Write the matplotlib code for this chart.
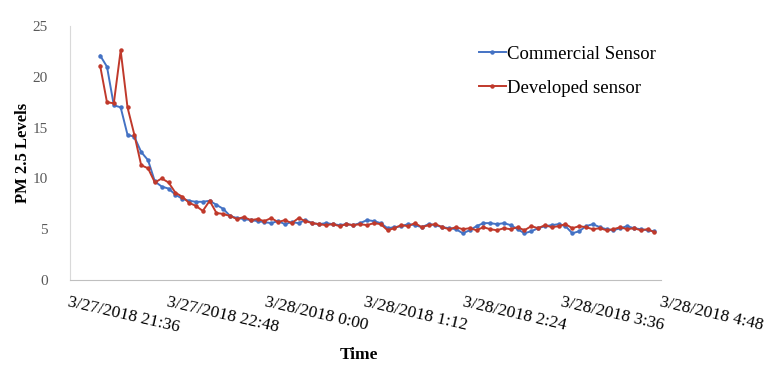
import numpy as np
import pandas as pd
import matplotlib
matplotlib.use('Agg')
import matplotlib.pyplot as plt
import matplotlib.dates as mdates

# ~~~~~~~~ data ~~~~~~~~ #
start_time = '2018-03-27 21:58'
step_min = 5

commercial = [22.1, 21.0, 17.2, 17.0, 14.3, 14.1, 12.6, 11.8, 9.7, 9.2,
              9.0, 8.4, 8.0, 7.8, 7.7, 7.7, 7.8, 7.4, 7.0, 6.3,
              6.1, 6.0, 5.9, 5.8, 5.7, 5.6, 5.8, 5.5, 5.7, 5.6,
              5.9, 5.6, 5.5, 5.6, 5.5, 5.4, 5.5, 5.4, 5.6, 5.9,
              5.8, 5.6, 5.1, 5.2, 5.3, 5.5, 5.4, 5.2, 5.5, 5.4,
              5.2, 5.1, 5.0, 4.6, 4.9, 5.3, 5.6, 5.6, 5.5, 5.6,
              5.4, 5.0, 4.6, 4.8, 5.1, 5.3, 5.4, 5.5, 5.3, 4.6,
              4.8, 5.3, 5.5, 5.2, 5.0, 4.9, 5.1, 5.3, 5.1, 5.0,
              4.9, 4.8]

developed = [21.1, 17.5, 17.4, 22.6, 17.0, 14.3, 11.3, 11.0, 9.6, 10.0,
             9.6, 8.6, 8.2, 7.6, 7.3, 6.8, 7.8, 6.6, 6.5, 6.3,
             6.0, 6.2, 5.9, 6.0, 5.8, 6.1, 5.7, 5.9, 5.6, 6.1,
             5.8, 5.6, 5.5, 5.4, 5.5, 5.3, 5.5, 5.4, 5.5, 5.4,
             5.6, 5.5, 4.9, 5.1, 5.4, 5.3, 5.6, 5.2, 5.4, 5.5,
             5.2, 5.0, 5.2, 5.0, 5.1, 4.9, 5.2, 5.0, 4.9, 5.1,
             5.0, 5.2, 4.9, 5.3, 5.1, 5.4, 5.2, 5.3, 5.5, 5.1,
             5.3, 5.2, 5.0, 5.1, 4.9, 5.0, 5.2, 5.0, 5.1, 4.9,
             5.0, 4.7]

tick_times = ['2018-03-27 21:36', '2018-03-27 22:48', '2018-03-28 00:00',
              '2018-03-28 01:12', '2018-03-28 02:24', '2018-03-28 03:36',
              '2018-03-28 04:48']
tick_labels = ['3/27/2018 21:36', '3/27/2018 22:48', '3/28/2018 0:00',
               '3/28/2018 1:12', '3/28/2018 2:24', '3/28/2018 3:36',
               '3/28/2018 4:48']
y_ticks = [0, 5, 10, 15, 20, 25]

# ~~~~~~~~ plotting ~~~~~~~~ #
plt.rcParams['font.family'] = ['Liberation Serif', 'DejaVu Serif']

times = pd.date_range(start_time, periods=len(commercial), freq='%dmin' % step_min)
ticks = pd.to_datetime(tick_times)

fig = plt.figure(figsize=(7.78, 3.67), dpi=100)
ax = fig.add_axes([0.09, 0.237, 0.76, 0.692])

ax.plot(times, commercial, color='#4472C4', marker='o', markersize=2.2,
        linewidth=1.4, label='Commercial Sensor')
ax.plot(times, developed, color='#C0392B', marker='o', markersize=2.2,
        linewidth=1.4, label='Developed sensor')

ax.set_xlim(ticks[0], ticks[-1])
ax.set_ylim(0, 25)
ax.set_yticks(y_ticks)
ax.set_xticks(ticks)
ax.set_xticklabels(tick_labels, rotation=-13, ha='left', va='top',
                   rotation_mode='anchor', fontsize=12.5)
ax.tick_params(axis='y', labelsize=11, length=0, pad=16, colors='#595959')
ax.tick_params(axis='x', length=0, pad=10)

for s in ['top', 'right']:
    ax.spines[s].set_visible(False)
ax.spines['left'].set_color('#d9d9d9')
ax.spines['bottom'].set_color('#bfbfbf')

ax.set_ylabel('PM 2.5 Levels', fontweight='bold', fontsize=12, labelpad=1)
fig.text(0.462, 0.032, 'Time', fontweight='bold', fontsize=12.5,
         ha='center', va='center')

ax.legend(loc='upper right', bbox_to_anchor=(1.02, 0.99), frameon=False,
          fontsize=13.5, handlelength=1.4, handletextpad=0.1, labelspacing=0.9)

plt.savefig('out.png', dpi=100)
